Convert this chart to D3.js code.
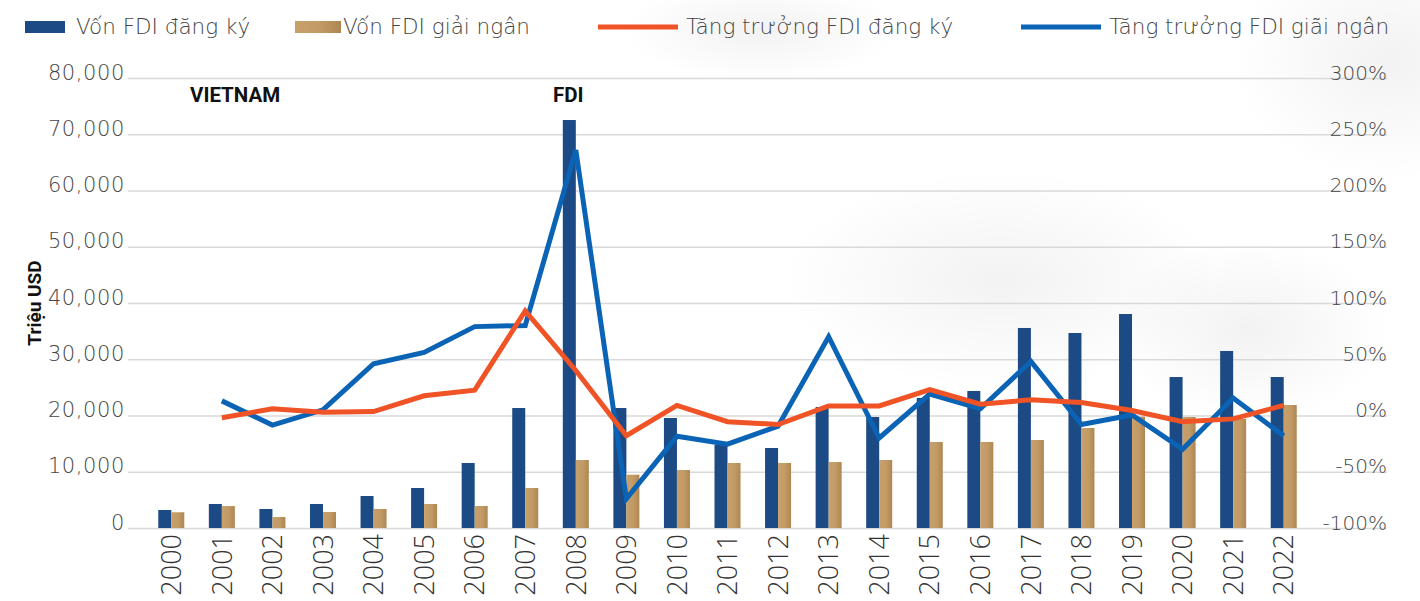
<!DOCTYPE html>
<html>
<head>
<meta charset="utf-8">
<script src="https://cdn.jsdelivr.net/npm/d3@7"></script>
<style>
  body { margin: 0; background: #fff; }
  svg { display: block; }
</style>
</head>
<body>
<svg id="chart" width="1420" height="601"></svg>
<script>
// Data
const years = ["2000","2001","2002","2003","2004","2005","2006","2007","2008","2009","2010",
  "2011","2012","2013","2014","2015","2016","2017","2018","2019","2020","2021","2022"];
const registered = [3200, 4270, 3380, 4270, 5690, 7110, 11560, 21330, 72530, 21330, 19560,
  14760, 14220, 21510, 19730, 23110, 24360, 35560, 34670, 38040, 26840, 31470, 26840];
const disbursed = [2800, 3900, 1950, 2840, 3380, 4270, 3910, 7110, 12090, 9480, 10310,
  11560, 11560, 11730, 12090, 15290, 15290, 15640, 17780, 19790, 19730, 19380, 21870];
const regGrowth = [null, -2, 6, 3, 3.5, 17.5, 22.5, 93, 40, -18, 9,
  -5.5, -8, 8.5, 8.5, 23, 10, 14, 11.5, 4.5, -5.5, -3, 9];
const disbGrowth = [null, 13, -8.5, 5, 46, 56, 79, 80, 236, -74, -18.5,
  -25.5, -9.5, 70, -20, 19, 6, 48, -8, 0.5, -30, 15.5, -18];
const leftTicks = [0, 10000, 20000, 30000, 40000, 50000, 60000, 70000, 80000];
const rightTicks = [-100, -50, 0, 50, 100, 150, 200, 250, 300];
const legendItems = ["Vốn FDI đăng ký", "Vốn FDI giải ngân", "Tăng trưởng FDI đăng ký", "Tăng trưởng FDI giãi ngân"];

const colors = { reg: "#1b4a85", disb: "#bb935e", regLine: "#f05325", disbLine: "#0a63b4" };
const labelFont = "'DejaVu Sans', sans-serif";
const yearFont = "'Open Sans', sans-serif";

let svg = d3.select("#chart");
let gridLeft = 128, gridRight = 1387;

// Soft grey background blotches
let defs = svg.append("defs");
let blot = defs.append("radialGradient").attr("id", "blot");
blot.append("stop").attr("offset", "0%").attr("stop-color", "#000").attr("stop-opacity", 0.05);
blot.append("stop").attr("offset", "100%").attr("stop-color", "#000").attr("stop-opacity", 0);
[[1390, 60, 160, 120], [1000, 280, 220, 110], [1250, 330, 140, 90], [760, 30, 140, 50]].forEach(b => {
    svg.append("ellipse").attr("cx", b[0]).attr("cy", b[1]).attr("rx", b[2]).attr("ry", b[3])
        .attr("fill", "url(#blot)");
});

let tan = defs.append("linearGradient").attr("id", "tan").attr("x1", 0).attr("x2", 1).attr("y1", 0).attr("y2", 0);
tan.append("stop").attr("offset", "0%").attr("stop-color", "#c7a06b");
tan.append("stop").attr("offset", "55%").attr("stop-color", "#c29a65");
tan.append("stop").attr("offset", "100%").attr("stop-color", "#ad8652");

// Scales
let x = d3.scaleBand().domain(years).range([146, 1309]);
let y = d3.scaleLinear().domain([0, 80000]).range([528, 78]);
let yR = d3.scaleLinear().domain([-100, 300]).range([528, 78]);
let cx = d => x(d) + x.bandwidth() / 2;
let barW = 13;

// Left axis with gridlines
let leftAxis = svg.append("g")
    .attr("transform", "translate(" + gridLeft + ",0)")
    .call(d3.axisLeft(y).tickValues(leftTicks).tickSize(-(gridRight - gridLeft)).tickPadding(3)
        .tickFormat(d3.format(",")));
leftAxis.select(".domain").remove();
leftAxis.selectAll(".tick line").attr("stroke", "#d9d9d9").attr("stroke-width", 1.5);
leftAxis.selectAll(".tick text")
    .attr("dy", "0.05em")
    .style("font-family", labelFont).style("font-weight", 200)
    .style("font-size", "21px").style("letter-spacing", "0.6px").style("fill", "#444");

// Right axis labels (right-aligned to the grid end)
let rightAxis = svg.append("g")
    .attr("transform", "translate(" + gridRight + ",0)")
    .call(d3.axisLeft(yR).tickValues(rightTicks).tickSize(0).tickPadding(0)
        .tickFormat(d => d + "%"));
rightAxis.select(".domain").remove();
rightAxis.selectAll(".tick text")
    .attr("dy", "0.05em")
    .style("font-family", labelFont).style("font-weight", 200)
    .style("font-size", "20px").style("fill", "#444");

// Bars
svg.append("g").selectAll("rect").data(years).join("rect")
    .attr("x", (d) => cx(d) - barW)
    .attr("y", (d, i) => y(registered[i]))
    .attr("width", barW)
    .attr("height", (d, i) => y(0) - y(registered[i]))
    .attr("fill", colors.reg);
svg.append("g").selectAll("rect").data(years).join("rect")
    .attr("x", (d) => cx(d))
    .attr("y", (d, i) => y(disbursed[i]))
    .attr("width", barW)
    .attr("height", (d, i) => y(0) - y(disbursed[i]))
    .attr("fill", "url(#tan)");

// Growth lines
function drawLine(values, color) {
    let line = d3.line()
        .defined(d => d.v != null)
        .x(d => cx(d.year))
        .y(d => yR(d.v));
    svg.append("path")
        .datum(years.map((yr, i) => ({ year: yr, v: values[i] })))
        .attr("d", line)
        .attr("fill", "none")
        .attr("stroke", color)
        .attr("stroke-width", 5);
}
drawLine(disbGrowth, colors.disbLine);
drawLine(regGrowth, colors.regLine);

// Year labels
let xAxis = svg.append("g")
    .attr("transform", "translate(0," + y(0) + ")")
    .call(d3.axisBottom(x).tickSize(0));
xAxis.select(".domain").remove();
xAxis.selectAll(".tick text")
    .attr("transform", "rotate(-90)")
    .attr("x", -6).attr("y", 0).attr("dy", "0.36em")
    .style("text-anchor", "end")
    .style("font-family", yearFont).style("font-weight", 300)
    .style("font-size", "27px").style("fill", "#333");

// Y axis title
svg.append("text")
    .attr("transform", "translate(41,303) rotate(-90)")
    .style("text-anchor", "middle")
    .style("font-family", "Roboto, sans-serif").style("font-weight", 700)
    .style("font-size", "19px").style("fill", "#111")
    .text("Triệu USD");

// Annotations
[["VIETNAM", 190], ["FDI", 553]].forEach(a => {
    svg.append("text")
        .attr("x", a[1]).attr("y", 102)
        .style("font-family", "Roboto, sans-serif").style("font-weight", 700)
        .style("font-size", "20.5px").style("fill", "#111")
        .text(a[0]);
});

// Legend
let legend = svg.append("g");
let legendX = [25, 295, 598, 1021];
legendItems.forEach((t, i) => {
    let lx = legendX[i];
    if (i < 2) {
        legend.append("rect").attr("x", lx).attr("y", 21).attr("width", i == 0 ? 40 : 46).attr("height", 12)
            .attr("fill", i == 0 ? colors.reg : "url(#tan)");
    } else {
        legend.append("line").attr("x1", lx).attr("x2", lx + 80).attr("y1", 27).attr("y2", 27)
            .attr("stroke", i == 2 ? colors.regLine : colors.disbLine).attr("stroke-width", 5);
    }
    let tx = i == 0 ? lx + 51 : (i == 1 ? lx + 48 : lx + 88);
    legend.append("text")
        .attr("x", tx).attr("y", 34)
        .style("font-family", labelFont).style("font-weight", 200)
        .style("font-size", "21.5px").style("fill", "#444")
        .text(t);
});
</script>
</body>
</html>
